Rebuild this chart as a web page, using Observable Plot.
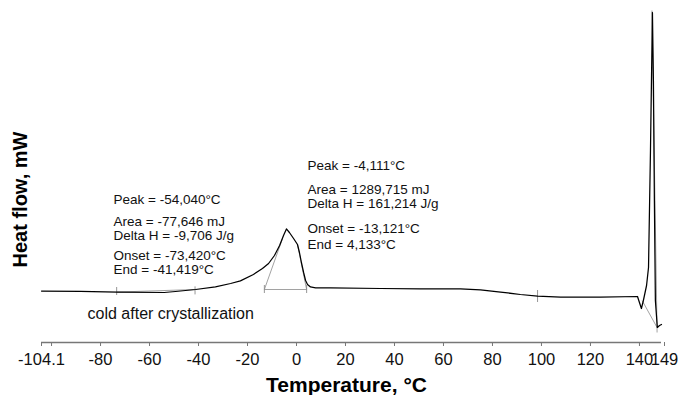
<!DOCTYPE html>
<html>
<head>
<meta charset="utf-8">
<script src="https://cdn.jsdelivr.net/npm/d3@7"></script>
<script src="https://cdn.jsdelivr.net/npm/@observablehq/plot@0.6"></script>
<style>
  html, body { margin: 0; padding: 0; background: #fff; }
  #chart svg { display: block; font-family: "Liberation Sans", Arial, Helvetica, sans-serif; }
</style>
</head>
<body>
<div id="chart"></div>
<script>
// DSC thermogram: heat flow versus temperature
const temperature = [
  -104.1, -88.2, -73.1, -54.04, -49.4, -41.2, -33.1, -26.9, -22.9, -17.6,
  -13.9, -11.4, -9.0, -6.9, -5.3, -4.111, -2.9, -1.2, 0.4, 1.2,
  2.0, 2.9, 3.7, 4.5, 5.7, 7.8, 13.9, 34.3, 50.6, 66.9,
  75.1, 83.3, 91.4, 98.4, 107.8, 124.1, 139.2, 140.8, 141.6, 142.9,
  143.7, 144.5, 145.3, 145.7, 146.1, 146.5, 147.3, 148.2, 149.0
];
const heatFlow = [
  -0.03, -0.04, -0.08, -0.10, -0.05, 0.05, 0.18, 0.35, 0.48, 0.80,
  1.10, 1.35, 1.75, 2.25, 2.75, 3.08, 2.90, 2.60, 2.30, 1.90,
  1.40, 0.90, 0.50, 0.30, 0.18, 0.13, 0.13, 0.10, 0.08, 0.08,
  0.03, -0.08, -0.20, -0.28, -0.33, -0.33, -0.30, -0.90, -0.50, 0.25,
  1.15, 7.0, 13.9, 10.5, 4.5, -0.5, -1.85, -1.75, -1.70
];

// integration limits and other markers on the baseline
const markerT  = [-73.42, -41.419, -13.121, 4.133, 98.4];
const markerLo = [-0.25, -0.22, -0.15, -0.15, -0.6];
const markerHi = [0.15, 0.18, 0.25, 0.25, 0.0];

// construction lines: baselines, tangents, peak line
const guideX1 = [-73.42, -13.121, -13.121, 4.133, 141.1, 145.1];
const guideY1 = [-0.08, 0.05, 0.05, 0.05, -0.5, 14.0];
const guideX2 = [-41.419, 4.133, -5.7, 0.4, 147.2, 147.2];
const guideY2 = [0.05, 0.05, 2.6, 2.3, -1.85, -2.1];

// peak analysis readouts
const noteText = [
  "Peak = -54,040°C", "Area = -77,646 mJ", "Delta H = -9,706 J/g", "Onset = -73,420°C", "End = -41,419°C",
  "Peak = -4,111°C", "Area = 1289,715 mJ", "Delta H = 161,214 J/g", "Onset = -13,121°C", "End = 4,133°C",
  "cold after crystallization"
];
const noteT = [-74.7, -74.7, -74.7, -74.7, -74.7, 4.5, 4.5, 4.5, 4.5, 4.5, -85.3];
const noteV = [4.55, 3.45, 2.75, 1.75, 1.05, 6.25, 5.05, 4.35, 3.1, 2.3, -1.15];
const noteSize = [13.5, 13.5, 13.5, 13.5, 13.5, 13.5, 13.5, 13.5, 13.5, 13.5, 16];

// axis ticks
const xTicks = [-104.1, -80, -60, -40, -20, 0, 20, 40, 60, 80, 100, 120, 140];
const xTickEnd = [149];
const xTickMinor = [-100];

const yMin = -2.6, yMax = 14;

const curve = temperature.map((T, i) => ({T, v: heatFlow[i]}));
const markers = markerT.map((T, i) => ({T, lo: markerLo[i], hi: markerHi[i]}));
const guides = guideX1.map((x1, i) => ({x1, y1: guideY1[i], x2: guideX2[i], y2: guideY2[i]}));
const notes = noteText.map((text, i) => ({text, T: noteT[i], v: noteV[i], size: noteSize[i]}));

const fmt = d => String(d);
const axisStyle = {tickSize: 4, tickPadding: 7, fontSize: 16.5, stroke: "#777", tickFormat: fmt, label: null};

const chart = Plot.plot({
  width: 680,
  height: 395,
  marginTop: 10,
  marginBottom: 53,
  marginLeft: 41,
  marginRight: 19,
  style: {fontFamily: '"Liberation Sans", Arial, Helvetica, sans-serif', color: "#111", background: "#fff"},
  x: {domain: [-104.1, 149], label: null},
  y: {domain: [yMin, yMax], axis: null, label: null},
  marks: [
    Plot.ruleY([yMin], {stroke: "#777", strokeWidth: 1.5}),
    Plot.axisX(xTicks, axisStyle),
    Plot.axisX(xTickEnd, {...axisStyle, dx: 3}),
    Plot.axisX(xTickMinor, {...axisStyle, tickFormat: () => ""}),
    Plot.link(guides, {x1: "x1", y1: "y1", x2: "x2", y2: "y2", stroke: "#8a8a8a", strokeWidth: 0.8}),
    Plot.ruleX(markers, {x: "T", y1: "lo", y2: "hi", stroke: "#8a8a8a", strokeWidth: 0.9}),
    Plot.line(curve, {x: "T", y: "v", stroke: "#000", strokeWidth: 1.25, curve: "linear"}),
    ...noteText.map((_, i) => Plot.text([notes[i]], {
      x: "T", y: "v", text: "text", textAnchor: "start", lineAnchor: "middle",
      fontSize: notes[i].size, fill: "#111"
    })),
    Plot.text(["Temperature, °C"], {
      frameAnchor: "bottom", textAnchor: "middle", lineAnchor: "middle",
      dx: -5, dy: 43, fontSize: 21, fontWeight: "bold", fill: "#000"
    }),
    Plot.text(["Heat flow, mW"], {
      frameAnchor: "left", textAnchor: "middle", lineAnchor: "middle", rotate: -90,
      dx: -21, dy: 23, fontSize: 20, fontWeight: "bold", fill: "#000"
    })
  ]
});

document.getElementById("chart").appendChild(chart);
</script>
</body>
</html>
